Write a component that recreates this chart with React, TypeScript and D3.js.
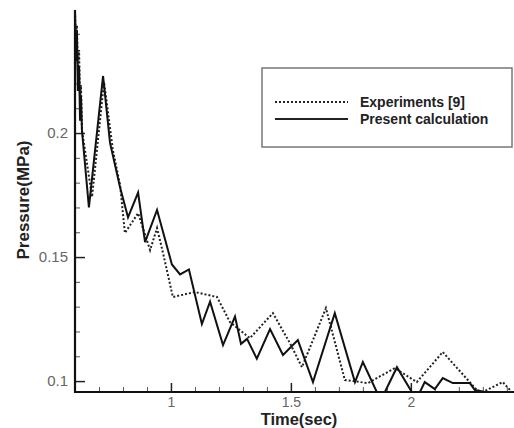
import React, { useRef, useEffect } from 'react';
import * as d3 from 'd3';

// time (sec) and pressure (MPa)
const calcTime = [0.6, 0.604, 0.608, 0.612, 0.617, 0.621, 0.625, 0.629, 0.658, 0.717, 0.746, 0.788, 0.821, 0.863, 0.892, 0.942, 1.004, 1.038, 1.075, 1.129, 1.163, 1.217, 1.267, 1.292, 1.317, 1.358, 1.413, 1.467, 1.529, 1.592, 1.683, 1.767, 1.8, 1.858, 1.892, 1.942, 2.004, 2.038, 2.058, 2.1, 2.133, 2.175, 2.246, 2.267, 2.308];
const calcPressure = [0.249, 0.229, 0.241, 0.217, 0.227, 0.205, 0.215, 0.201, 0.17, 0.223, 0.196, 0.178, 0.166, 0.176, 0.156, 0.169, 0.147, 0.143, 0.145, 0.123, 0.132, 0.1145, 0.126, 0.115, 0.117, 0.109, 0.121, 0.1105, 0.1165, 0.0996, 0.1274, 0.0996, 0.1077, 0.0956, 0.0956, 0.1056, 0.0956, 0.0956, 0.0996, 0.0968, 0.1012, 0.0992, 0.0992, 0.0964, 0.0956];

const expTime = [0.6, 0.604, 0.608, 0.612, 0.617, 0.621, 0.625, 0.629, 0.671, 0.721, 0.758, 0.788, 0.808, 0.863, 0.913, 0.942, 0.967, 1.008, 1.1, 1.192, 1.246, 1.329, 1.425, 1.496, 1.546, 1.646, 1.725, 1.821, 1.933, 2.025, 2.133, 2.275, 2.3, 2.383, 2.421];
const expPressure = [0.249, 0.2375, 0.2435, 0.2254, 0.2335, 0.2133, 0.2194, 0.2012, 0.1742, 0.2206, 0.1931, 0.179, 0.1597, 0.1677, 0.1528, 0.1617, 0.1516, 0.1339, 0.1359, 0.1339, 0.1238, 0.1173, 0.1274, 0.1153, 0.1056, 0.1294, 0.1004, 0.0992, 0.1052, 0.0996, 0.1117, 0.0964, 0.0956, 0.0996, 0.0956];

const xMajor = [1, 1.5, 2];
const xMinor = [0.7, 0.8, 0.9, 1.1, 1.2, 1.3, 1.4, 1.6, 1.7, 1.8, 1.9, 2.1, 2.2, 2.3, 2.4];
const yMajor = [0.1, 0.15, 0.2];
const yMinor = [0.11, 0.12, 0.13, 0.14, 0.16, 0.17, 0.18, 0.19, 0.21, 0.22, 0.23, 0.24];

const legendLabels = ['Experiments [9]', 'Present calculation'];

const W = 514;
const H = 428;

function App() {
  const svgRef = useRef<SVGSVGElement>(null);

  useEffect(() => {
    const svg = d3.select(svgRef.current);
    svg.selectAll('*').remove();

    const x = d3.scaleLinear().domain([0.6, 2.43]).range([75, 514]);
    const y = d3.scaleLinear().domain([0.0956, 0.2496]).range([392, 10]);

    const font = '"Liberation Sans", Arial, sans-serif';

    // y axis ticks (inward)
    const gy = svg.append('g').attr('transform', 'translate(75,0)');
    gy.call(d3.axisLeft(y).tickValues(yMajor).tickFormat(d3.format('')).tickSize(-10).tickSizeOuter(0).tickPadding(7));
    const gyMinor = svg.append('g').attr('transform', 'translate(75,0)');
    gyMinor.call(d3.axisLeft(y).tickValues(yMinor).tickFormat(() => '').tickSize(-5).tickSizeOuter(0));

    // x axis ticks (inward)
    const gx = svg.append('g').attr('transform', 'translate(0,392)');
    gx.call(d3.axisBottom(x).tickValues(xMajor).tickFormat(d3.format('')).tickSize(-9).tickSizeOuter(0).tickPadding(5));
    const gxMinor = svg.append('g').attr('transform', 'translate(0,392)');
    gxMinor.call(d3.axisBottom(x).tickValues(xMinor).tickFormat(() => '').tickSize(-5).tickSizeOuter(0));

    svg.selectAll('.domain').remove();
    svg.selectAll('.tick line').attr('stroke', '#222').attr('stroke-width', 1.5);
    gxMinor.selectAll('.tick line').attr('stroke', '#555').attr('stroke-width', 1);
    gyMinor.selectAll('.tick line').attr('stroke', '#555').attr('stroke-width', 1);
    gy.selectAll('.tick text').attr('font-family', font).attr('font-size', 15).attr('fill', '#666');
    gx.selectAll('.tick text').attr('font-family', font).attr('font-size', 14).attr('fill', '#666');

    // axis lines
    svg.append('line').attr('x1', 75).attr('x2', 75).attr('y1', 10).attr('y2', 393)
      .attr('stroke', '#111').attr('stroke-width', 2.2);
    svg.append('line').attr('x1', 74).attr('x2', 514).attr('y1', 392).attr('y2', 392)
      .attr('stroke', '#111').attr('stroke-width', 2.2);

    const lineGen = d3.line<[number, number]>()
      .x((d) => x(d[0]))
      .y((d) => y(d[1]));

    const expData = expTime.map((t, i) => [t, expPressure[i]] as [number, number]);
    const calcData = calcTime.map((t, i) => [t, calcPressure[i]] as [number, number]);

    svg.append('path').datum(expData).attr('d', lineGen)
      .attr('fill', 'none').attr('stroke', '#222').attr('stroke-width', 2)
      .attr('stroke-dasharray', '2,2');
    svg.append('path').datum(calcData).attr('d', lineGen)
      .attr('fill', 'none').attr('stroke', '#111').attr('stroke-width', 2)
      .attr('stroke-linejoin', 'miter');

    // legend
    const lg = svg.append('g');
    lg.append('rect').attr('x', 262).attr('y', 68).attr('width', 250).attr('height', 79)
      .attr('fill', 'white').attr('stroke', '#777').attr('stroke-width', 1.5);
    legendLabels.forEach((label, i) => {
      const ly = 102 + i * 17;
      lg.append('line').attr('x1', 275).attr('x2', 348).attr('y1', ly).attr('y2', ly)
        .attr('stroke', '#222').attr('stroke-width', 2)
        .attr('stroke-dasharray', i === 0 ? '2,2' : null);
      lg.append('text').attr('x', 360).attr('y', ly + 5).text(label)
        .attr('font-family', font).attr('font-size', 14).attr('font-weight', 'bold').attr('fill', '#222');
    });

    // axis titles
    svg.append('text').attr('x', 299).attr('y', 425).attr('text-anchor', 'middle')
      .attr('font-family', font).attr('font-size', 16.5).attr('font-weight', 'bold').attr('fill', '#222')
      .text('Time(sec)');
    svg.append('text').attr('transform', 'translate(29,200) rotate(-90)').attr('text-anchor', 'middle')
      .attr('font-family', font).attr('font-size', 17).attr('font-weight', 'bold').attr('fill', '#222')
      .text('Pressure(MPa)');
  }, []);

  return (
    <svg ref={svgRef} width={W} height={H}
      style={{ position: 'absolute', left: 0, top: 0, background: 'white' }} />
  );
}

export default App;
